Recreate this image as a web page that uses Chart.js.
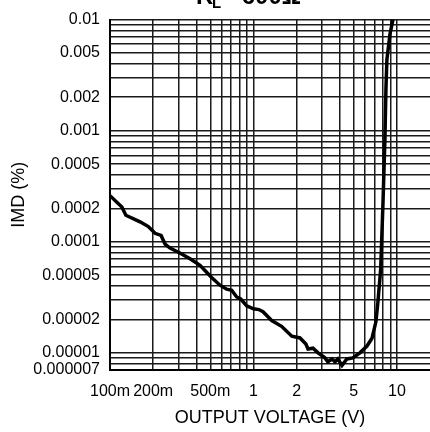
<!DOCTYPE html>
<html>
<head>
<meta charset="utf-8">
<script src="https://cdn.jsdelivr.net/npm/chart.js@4"></script>
<style>
  html, body { margin: 0; padding: 0; background: #fff; }
  canvas { display: block; }
</style>
</head>
<body>
<canvas id="imdChart" width="430" height="432"></canvas>
<script>
// output voltage (V) and IMD (%)
const voltage = [0.1, 0.121, 0.129, 0.162, 0.185, 0.206, 0.227, 0.242, 0.262, 0.307,
  0.361, 0.424, 0.459, 0.511, 0.584, 0.65, 0.705, 0.764, 0.815, 0.897,
  1.0, 1.09, 1.165, 1.34, 1.57, 1.85, 2.11, 2.32, 2.4, 2.6,
  2.82, 3.15, 3.3, 3.52, 3.7, 3.88, 4.14, 4.48, 4.93, 5.52,
  6.18, 6.7, 7.14, 7.37, 7.7, 7.99, 8.25, 8.38, 8.51, 8.94, 9.38];
const imd = [0.00026, 0.000205, 0.000173, 0.000151, 0.000137, 0.000119, 0.000114, 0.0000953, 0.0000878, 0.0000793,
  0.0000702, 0.0000613, 0.000055, 0.0000477, 0.0000406, 0.0000374, 0.0000366, 0.0000318, 0.0000305, 0.0000265,
  0.0000249, 0.0000245, 0.0000234, 0.0000195, 0.0000173, 0.0000141, 0.0000136, 0.000012, 0.0000108, 0.000011,
  0.00001, 0.000009, 0.0000083, 0.0000088, 0.0000083, 0.0000088, 0.0000077, 0.0000088, 0.000009, 0.00001,
  0.0000115, 0.0000135, 0.0000191, 0.0000287, 0.0000562, 0.000219, 0.000855, 0.00236, 0.00435, 0.00738, 0.01];

// labelled ticks
const xTickValues = [0.1, 0.2, 0.5, 1, 2, 5, 10];
const xTickLabels = ['100m', '200m', '500m', '1', '2', '5', '10'];
const yTickValues = [0.01, 0.005, 0.002, 0.001, 0.0005, 0.0002, 0.0001, 0.00005, 0.00002, 0.00001, 0.000007];
const yTickLabels = ['0.01', '0.005', '0.002', '0.001', '0.0005', '0.0002', '0.0001', '0.00005', '0.00002', '0.00001', '0.000007'];

// grid line positions (log minor grid)
const xGrid = [0.1, 0.2, 0.3, 0.4, 0.5, 0.6, 0.7, 0.8, 0.9,
  1, 2, 3, 4, 5, 6, 7, 8, 9, 10];
const yGrid = [0.000007, 0.000008, 0.000009,
  0.00001, 0.00002, 0.00003, 0.00004, 0.00005, 0.00006, 0.00007, 0.00008, 0.00009,
  0.0001, 0.0002, 0.0003, 0.0004, 0.0005, 0.0006, 0.0007, 0.0008, 0.0009,
  0.001, 0.002, 0.003, 0.004, 0.005, 0.006, 0.007, 0.008, 0.009, 0.01];

const FONT = "'Liberation Sans', Arial, sans-serif";

function labelFor(value, values, labels) {
  for (let i = 0; i < values.length; i++) {
    if (Math.abs(value - values[i]) / values[i] < 1e-6) return labels[i];
  }
  return '';
}

// title sits mostly above the top edge, as in the original
const topTitle = {
  id: 'topTitle',
  afterDraw(chart) {
    const ctx = chart.ctx;
    ctx.save();
    ctx.fillStyle = '#000';
    ctx.textBaseline = 'alphabetic';
    ctx.textAlign = 'left';
    ctx.font = 'bold 24px ' + FONT;
    ctx.fillText('R', 196, 4);
    ctx.font = 'bold 15px ' + FONT;
    ctx.fillText('L', 212, 8);
    ctx.font = 'bold 24px ' + FONT;
    ctx.fillText('= 600Ω', 221, 4);
    ctx.restore();
  }
};

const points = voltage.map((v, i) => ({ x: v, y: imd[i] }));

new Chart(document.getElementById('imdChart'), {
  type: 'line',
  data: {
    datasets: [{
      data: points,
      borderColor: '#000',
      borderWidth: 3.5,
      pointRadius: 0,
      tension: 0,
      fill: false
    }]
  },
  options: {
    responsive: false,
    animation: false,
    layout: { padding: { top: 12, right: 0, bottom: 0, left: 0 } },
    plugins: {
      legend: { display: false },
      tooltip: { enabled: false }
    },
    scales: {
      x: {
        type: 'logarithmic',
        min: 0.1,
        max: 17,
        afterBuildTicks(scale) { scale.ticks = xGrid.map(v => ({ value: v })); },
        afterFit(scale) { scale.height = 62; },
        grid: { color: '#1a1a1a', lineWidth: 1.5, drawTicks: false },
        border: { color: '#000', width: 2 },
        ticks: {
          autoSkip: false,
          maxRotation: 0,
          padding: 12,
          color: '#000',
          font: { family: FONT, size: 16 },
          callback: (value) => labelFor(value, xTickValues, xTickLabels)
        },
        title: {
          display: true,
          text: 'OUTPUT VOLTAGE (V)',
          color: '#000',
          font: { family: FONT, size: 18 },
          padding: { top: 0, bottom: 3 }
        }
      },
      y: {
        type: 'logarithmic',
        min: 0.000007,
        max: 0.01,
        afterBuildTicks(scale) { scale.ticks = yGrid.map(v => ({ value: v })); },
        afterFit(scale) { scale.width = 110; },
        grid: { color: '#1a1a1a', lineWidth: 1.5, drawTicks: false },
        border: { color: '#000', width: 2 },
        ticks: {
          autoSkip: false,
          padding: 10,
          color: '#000',
          font: { family: FONT, size: 16 },
          callback: (value) => labelFor(value, yTickValues, yTickLabels)
        },
        title: {
          display: true,
          text: 'IMD (%)',
          color: '#000',
          font: { family: FONT, size: 18 },
          padding: { top: 8, bottom: 0 }
        }
      }
    }
  },
  plugins: [topTitle]
});
</script>
</body>
</html>
